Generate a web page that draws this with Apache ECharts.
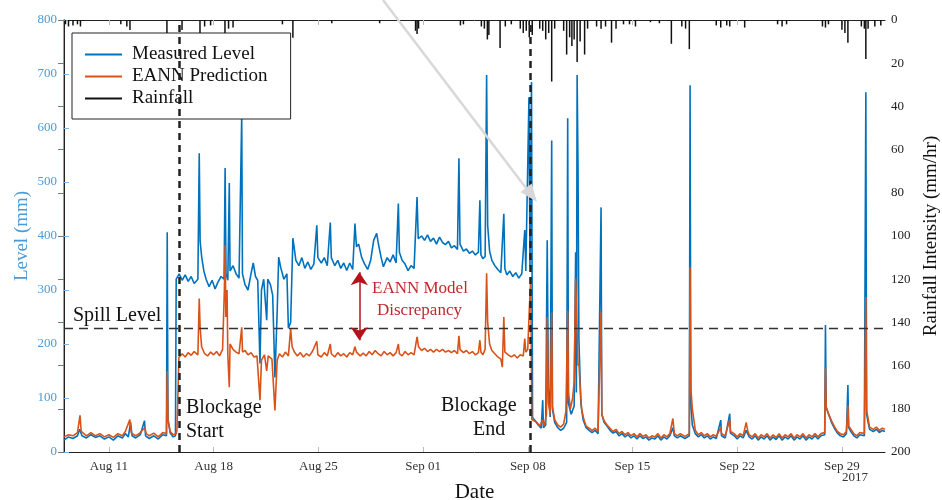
<!DOCTYPE html>
<html>
<head>
<meta charset="utf-8">
<script src="https://cdn.jsdelivr.net/npm/echarts@6/dist/echarts.min.js"></script>
<style>
  html, body { margin: 0; padding: 0; background: #fff; }
  #chart { width: 942px; height: 500px; }
</style>
</head>
<body>
<div id="chart"></div>
<script>
// days are counted from 8 Aug 2017 00:00
const startDate = new Date(2017, 7, 8).getTime();
const dayMs = 86400000;
const xMaxDay = 54.88;
const xTickDays = [3, 10, 17, 24, 31, 38, 45, 52];
const months = ["Jan", "Feb", "Mar", "Apr", "May", "Jun", "Jul", "Aug", "Sep", "Oct", "Nov", "Dec"];

const spillLevel = 230;
const blockageStart = 7.69;
const blockageEnd = 31.15;

// measured level (mm): [day, value]
const measuredLevel = [
  [0,22],[0.3,28],[0.6,25],[0.9,30],[1.05,42],[1.2,30],[1.5,26],[1.8,32],[2.1,27],[2.4,30],[2.7,24],[3.0,28],
  [3.3,22],[3.6,30],[3.9,26],[4.1,34],[4.3,28],[4.45,55],[4.55,30],[4.8,26],[5.1,32],[5.38,58],[5.45,30],[5.7,25],
  [6.0,30],[6.3,24],[6.6,32],[6.85,30],[6.9,407],[6.95,60],[7.1,35],[7.3,28],[7.45,30],[7.5,320],[7.7,330],[7.9,318],
  [8.1,328],[8.3,316],[8.5,325],[8.7,312],[8.95,320],[9.04,553],[9.1,390],[9.2,362],[9.35,335],[9.5,320],[9.7,306],
  [9.9,318],[10.1,302],[10.3,315],[10.5,325],[10.7,320],[10.77,526],[10.83,330],[10.95,318],[11.05,498],[11.1,335],
  [11.3,345],[11.5,330],[11.7,322],[11.88,623],[11.93,330],[12.1,310],[12.3,300],[12.5,330],[12.65,350],[12.8,325],
  [12.95,318],[13.1,164],[13.2,300],[13.35,320],[13.55,244],[13.62,320],[13.8,310],[13.95,290],[14.1,138],[14.25,260],
  [14.35,361],[14.5,340],[14.7,320],[14.9,330],[15.0,229],[15.15,240],[15.3,396],[15.5,355],[15.7,345],[15.9,360],
  [16.1,340],[16.3,352],[16.5,338],[16.7,348],[16.9,420],[16.97,360],[17.2,350],[17.4,360],[17.6,345],[17.8,425],
  [17.87,360],[18.1,345],[18.3,355],[18.5,340],[18.7,350],[18.9,336],[19.1,350],[19.3,338],[19.45,423],[19.55,380],
  [19.7,385],[19.9,360],[20.1,348],[20.3,338],[20.5,355],[20.7,392],[20.9,405],[21.0,388],[21.2,360],[21.35,343],
  [21.6,360],[21.8,352],[22.0,365],[22.2,350],[22.35,460],[22.42,370],[22.6,355],[22.8,348],[23.0,336],[23.2,345],
  [23.4,340],[23.6,472],[23.68,395],[23.9,400],[24.1,392],[24.3,402],[24.5,390],[24.7,396],[24.9,385],[25.1,398],
  [25.3,388],[25.5,384],[25.7,390],[25.9,378],[26.1,382],[26.3,375],[26.4,544],[26.47,385],[26.7,372],[26.9,376],
  [27.1,368],[27.3,372],[27.5,365],[27.7,370],[27.8,466],[27.87,365],[28.0,358],[28.15,362],[28.25,698],[28.32,420],
  [28.45,372],[28.6,355],[28.8,345],[29.0,338],[29.2,332],[29.4,441],[29.47,340],[29.6,328],[29.8,335],[30.0,325],
  [30.2,332],[30.4,322],[30.6,330],[30.8,411],[30.87,335],[31.0,337],[31.08,657],[31.15,345],[31.25,685],[31.32,64],
  [31.5,58],[31.7,50],[31.9,44],[32.0,96],[32.05,45],[32.2,50],[32.3,392],[32.38,120],[32.5,65],[32.6,577],[32.65,80],
  [32.8,55],[33.0,45],[33.2,40],[33.4,44],[33.6,55],[33.67,618],[33.72,90],[33.9,70],[34.1,85],[34.2,370],[34.25,110],
  [34.3,698],[34.36,527],[34.42,207],[34.55,90],[34.7,60],[34.9,45],[35.1,40],[35.3,36],[35.5,40],[35.7,34],[35.9,453],
  [35.95,70],[36.1,55],[36.3,48],[36.5,40],[36.7,35],[36.9,38],[37.1,30],[37.3,34],[37.5,28],[37.7,32],[37.9,26],
  [38.1,30],[38.3,24],[38.5,30],[38.7,25],[38.9,28],[39.1,22],[39.3,26],[39.5,24],[39.7,30],[39.9,22],[40.1,28],
  [40.3,24],[40.5,30],[40.7,45],[40.8,30],[41.0,26],[41.2,30],[41.5,25],[41.8,30],[41.85,679],[41.9,90],[42.0,50],
  [42.2,34],[42.4,28],[42.6,32],[42.8,26],[43.0,30],[43.2,24],[43.4,28],[43.6,25],[43.9,59],[43.95,30],[44.2,26],
  [44.5,71],[44.55,35],[44.8,30],[45.0,24],[45.2,30],[45.4,26],[45.6,40],[45.8,28],[46.0,24],[46.2,30],[46.4,22],
  [46.6,28],[46.8,24],[47.0,30],[47.2,22],[47.4,28],[47.6,23],[47.8,30],[48.0,22],[48.2,28],[48.4,24],[48.6,30],
  [48.8,22],[49.0,28],[49.2,24],[49.4,30],[49.6,22],[49.8,28],[50.0,24],[50.2,30],[50.4,24],[50.6,30],[50.85,32],
  [50.9,235],[50.95,83],[51.1,71],[51.3,55],[51.5,44],[51.7,35],[51.9,30],[52.1,28],[52.3,34],[52.4,124],[52.45,45],
  [52.6,38],[52.8,30],[53.0,26],[53.2,32],[53.5,30],[53.6,666],[53.65,70],[53.75,55],[53.85,42],[54.1,38],[54.3,42],
  [54.5,36],[54.7,40],[54.88,38]
];

// EANN prediction (mm): [day, value]
const predictedLevel = [
  [0,28],[0.3,32],[0.6,30],[0.9,36],[1.07,68],[1.15,38],[1.5,30],[1.8,36],[2.1,30],[2.4,34],[2.7,28],[3.0,32],
  [3.3,27],[3.6,34],[3.9,30],[4.1,38],[4.4,60],[4.5,35],[4.8,30],[5.1,36],[5.4,45],[5.5,34],[5.7,30],[6.0,35],
  [6.3,28],[6.6,36],[6.85,34],[6.9,150],[6.95,60],[7.1,38],[7.3,32],[7.5,34],[7.55,40],[7.68,175],[7.9,182],
  [8.1,176],[8.3,184],[8.5,179],[8.7,186],[8.95,180],[9.04,284],[9.1,230],[9.2,195],[9.4,182],[9.6,178],[9.8,185],
  [10.0,180],[10.2,186],[10.4,178],[10.6,190],[10.72,300],[10.77,383],[10.82,250],[10.9,300],[10.95,180],[11.05,120],
  [11.1,200],[11.3,190],[11.5,185],[11.7,182],[11.88,231],[11.93,185],[12.1,188],[12.3,180],[12.5,184],[12.7,176],
  [12.9,178],[13.1,96],[13.2,170],[13.4,180],[13.55,150],[13.65,178],[13.9,172],[14.1,77],[14.25,170],[14.4,182],
  [14.6,176],[14.8,185],[15.0,178],[15.15,228],[15.25,195],[15.4,185],[15.6,178],[15.8,184],[16.0,176],[16.2,182],
  [16.4,178],[16.6,186],[16.9,205],[16.97,180],[17.2,176],[17.4,184],[17.6,178],[17.8,200],[17.87,182],[18.1,176],
  [18.3,184],[18.5,178],[18.7,182],[18.9,176],[19.1,184],[19.3,180],[19.45,195],[19.55,185],[19.8,178],[20.0,183],
  [20.2,178],[20.4,186],[20.6,180],[20.8,188],[21.0,182],[21.2,178],[21.4,186],[21.6,180],[21.8,184],[22.0,178],
  [22.2,184],[22.35,200],[22.42,182],[22.6,178],[22.8,186],[23.0,180],[23.2,184],[23.4,180],[23.6,213],[23.7,195],
  [23.9,188],[24.1,192],[24.3,186],[24.5,190],[24.7,185],[24.9,190],[25.1,186],[25.3,190],[25.5,185],[25.7,188],
  [25.9,184],[26.1,188],[26.3,182],[26.4,215],[26.47,190],[26.7,184],[26.9,188],[27.1,182],[27.3,186],[27.5,180],
  [27.7,184],[27.8,207],[27.87,185],[28.0,180],[28.15,190],[28.25,331],[28.32,240],[28.45,200],[28.6,188],[28.8,182],
  [29.0,176],[29.2,172],[29.3,157],[29.4,250],[29.47,185],[29.7,180],[29.9,176],[30.1,180],[30.3,174],[30.5,180],
  [30.7,178],[30.8,210],[30.87,185],[31.0,190],[31.1,262],[31.2,321],[31.27,60],[31.4,62],[31.6,55],[31.8,48],
  [32.0,60],[32.1,48],[32.25,70],[32.3,250],[32.38,90],[32.5,70],[32.6,259],[32.65,85],[32.8,60],[33.0,50],[33.2,46],
  [33.4,52],[33.55,75],[33.67,262],[33.72,110],[33.85,80],[34.0,100],[34.1,130],[34.2,321],[34.3,321],[34.36,160],
  [34.42,164],[34.5,120],[34.6,80],[34.75,60],[34.9,48],[35.1,44],[35.3,40],[35.5,44],[35.7,38],[35.9,259],[35.95,70],
  [36.1,58],[36.3,50],[36.5,44],[36.7,38],[36.9,42],[37.1,34],[37.3,38],[37.5,32],[37.7,36],[37.9,30],[38.1,34],
  [38.3,28],[38.5,34],[38.7,29],[38.9,32],[39.1,26],[39.3,30],[39.5,28],[39.7,34],[39.9,26],[40.1,32],[40.3,28],
  [40.5,34],[40.7,62],[40.8,34],[41.0,30],[41.2,34],[41.5,29],[41.8,34],[41.85,342],[41.9,120],[42.0,80],[42.1,60],
  [42.2,40],[42.4,32],[42.6,36],[42.8,30],[43.0,34],[43.2,28],[43.4,32],[43.6,29],[43.9,45],[43.95,34],[44.2,30],
  [44.5,60],[44.55,38],[44.8,34],[45.0,28],[45.2,34],[45.4,30],[45.6,55],[45.7,40],[45.8,32],[46.0,28],[46.2,34],
  [46.4,26],[46.6,32],[46.8,28],[47.0,34],[47.2,26],[47.4,32],[47.6,27],[47.8,34],[48.0,26],[48.2,32],[48.4,28],
  [48.6,34],[48.8,26],[49.0,32],[49.2,28],[49.4,34],[49.6,26],[49.8,32],[50.0,28],[50.2,34],[50.4,28],[50.6,34],
  [50.85,36],[50.9,157],[50.95,83],[51.1,71],[51.3,58],[51.5,47],[51.7,38],[51.9,34],[52.1,32],[52.3,38],[52.4,86],
  [52.45,48],[52.6,42],[52.8,34],[53.0,30],[53.2,36],[53.5,34],[53.6,287],[53.65,77],[53.75,62],[53.85,46],[54.1,42],
  [54.3,46],[54.5,40],[54.7,44],[54.88,42]
];

// rainfall intensity (mm/hr): [day, value]
const rainfall = [
  [0.1,2],[0.3,3],[0.6,2.5],[0.9,2],[1.1,3],[3.8,2],[4.2,3],[4.41,4.6],[6.88,6],[7.89,4.6],[9.09,6],[9.4,3],[9.8,2.5],
  [10.76,6],[11.0,4],[11.3,3.5],[14.6,2],[15.3,8.2],[17.9,1.5],[21.1,1.5],[23.5,5],[23.6,6.5],[23.7,4],[26.5,2.5],
  [26.7,2],[27.9,3],[28.1,4],[28.3,9],[28.4,7],[29.15,13],[29.5,3],[29.9,2],[30.5,4],[30.7,6],[30.9,5],[31.1,8],
  [31.3,7],[31.8,4],[32.0,5],[32.2,9],[32.4,6],[32.6,28.5],[32.8,4],[33.4,5],[33.6,16],[33.8,8],[33.95,12],[34.1,9],
  [34.3,19.5],[34.5,10],[34.8,16],[35.0,4],[35.6,3],[35.9,4],[36.2,3],[36.6,10.5],[36.9,4],[37.4,2],[37.8,2],[38.2,3],
  [39.2,1],[39.8,1.5],[40.6,11],[41.3,3],[41.55,4],[41.8,13.5],[43.6,2.5],[43.9,3.5],[44.3,2.5],[44.5,3],[45.5,3.5],
  [47.7,2],[48.0,3],[48.3,2],[50.7,3],[50.9,3.5],[51.1,2],[52.0,4.5],[52.2,6],[52.4,10.5],[53.3,3],[53.5,4],[53.6,18],
  [53.75,4],[54.2,3],[54.6,2.5]
];

const serif = "Liberation Serif";

function dayLabel(v) {
  const d = new Date(startDate + v * dayMs);
  return months[d.getMonth()] + " " + String(d.getDate()).padStart(2, "0");
}

const chart = echarts.init(document.getElementById("chart"), null, { renderer: "canvas" });

chart.setOption({
  animation: false,
  textStyle: { fontFamily: serif },
  grid: { left: 64, right: 57, top: 20, bottom: 48, containLabel: false, outerBoundsMode: "none" },
  legend: {
    orient: "vertical",
    left: 72,
    top: 33,
    backgroundColor: "#fff",
    borderColor: "#222",
    borderWidth: 1,
    padding: [12, 23, 11, 13],
    itemGap: 3,
    itemWidth: 37,
    itemHeight: 2,
    icon: "rect",
    textStyle: { fontFamily: serif, fontSize: 19, color: "#111", padding: [0, 0, 0, 5] },
    data: ["Measured Level", "EANN Prediction", "Rainfall"]
  },
  xAxis: [
    {
      type: "value",
      min: 0,
      max: xMaxDay,
      name: "Date",
      nameLocation: "middle",
      nameGap: 30,
      nameTextStyle: { fontFamily: serif, fontSize: 21, color: "#111" },
      axisLine: { lineStyle: { color: "#222", width: 1 } },
      axisTick: { inside: true, length: 5, customValues: xTickDays, lineStyle: { color: "#bbb" } },
      axisLabel: { customValues: xTickDays, formatter: dayLabel, fontSize: 13, color: "#333", margin: 8 },
      splitLine: { show: false }
    },
    {
      type: "value",
      position: "top",
      min: 0,
      max: xMaxDay,
      axisLine: { onZero: false, lineStyle: { color: "#222", width: 1 } },
      axisTick: { inside: true, length: 5, customValues: xTickDays, lineStyle: { color: "#bbb" } },
      axisLabel: { show: false },
      splitLine: { show: false }
    }
  ],
  yAxis: [
    {
      type: "value",
      min: 0,
      max: 800,
      interval: 100,
      name: "Level (mm)",
      nameLocation: "middle",
      nameRotate: 90,
      nameGap: 32,
      nameMoveOverlap: false,
      nameTextStyle: { fontFamily: serif, fontSize: 19, color: "#4a9ad8" },
      axisLine: { show: true, lineStyle: { color: "#3a8fd6", width: 1.5 } },
      axisTick: { show: true, inside: true, length: 5, lineStyle: { color: "#7fb6e6" } },
      axisLabel: { fontSize: 13, color: "#4a9ad8", margin: 7 },
      splitLine: { show: false }
    },
    {
      type: "value",
      position: "right",
      inverse: true,
      min: 0,
      max: 200,
      interval: 20,
      name: "Rainfall Intensity (mm/hr)",
      nameLocation: "middle",
      nameRotate: 90,
      nameGap: 36,
      nameTextStyle: { fontFamily: serif, fontSize: 19, color: "#111" },
      axisLine: { show: true, lineStyle: { color: "#222", width: 1 } },
      axisTick: { show: true, inside: true, length: 6, lineStyle: { color: "#777" } },
      axisLabel: { fontSize: 13, color: "#222", margin: 6 },
      splitLine: { show: false }
    }
  ],
  series: [
    {
      name: "Measured Level",
      type: "line",
      yAxisIndex: 0,
      showSymbol: false,
      symbol: "none",
      color: "#0072BD",
      lineStyle: { width: 1.6, color: "#0072BD" },
      data: measuredLevel,
      z: 2
    },
    {
      name: "EANN Prediction",
      type: "line",
      yAxisIndex: 0,
      showSymbol: false,
      symbol: "none",
      color: "#D95319",
      lineStyle: { width: 1.6, color: "#D95319" },
      data: predictedLevel,
      z: 3,
      markLine: {
        silent: true,
        symbol: "none",
        label: { show: false },
        data: [
          { yAxis: spillLevel, lineStyle: { color: "#333", type: [9, 6], width: 1.3 } },
          { xAxis: blockageStart, lineStyle: { color: "#222", type: [7, 5], width: 2.5 } },
          { xAxis: blockageEnd, lineStyle: { color: "#222", type: [7, 5], width: 2.5 } },
          [
            { coord: [19.74, 333], symbol: "arrow", symbolSize: 13, lineStyle: { color: "#b5121b", type: "solid", width: 1.5 } },
            { coord: [19.74, 207], symbol: "arrow", symbolSize: 13 }
          ]
        ]
      }
    },
    {
      name: "Rainfall",
      type: "bar",
      yAxisIndex: 1,
      color: "#111",
      barWidth: 1.5,
      itemStyle: { color: "#111" },
      data: rainfall,
      z: 4
    }
  ],
  graphic: [
    { type: "text", left: 73, top: 306, style: { text: "Spill Level", font: "20px " + serif, fill: "#111" } },
    { type: "text", left: 186, top: 396, style: { text: "Blockage\nStart", font: "20px " + serif, fill: "#111", lineHeight: 24 } },
    { type: "text", left: 441, top: 396, style: { text: "Blockage", font: "20px " + serif, fill: "#111" } },
    { type: "text", left: 473, top: 420, style: { text: "End", font: "20px " + serif, fill: "#111" } },
    { type: "text", left: 372, top: 280, style: { text: "EANN Model", font: "17px " + serif, fill: "#c0282d" } },
    { type: "text", left: 377, top: 302, style: { text: "Discrepancy", font: "17px " + serif, fill: "#c0282d" } },
    { type: "text", left: 842, top: 471, style: { text: "2017", font: "13px " + serif, fill: "#333" } },
    {
      type: "line",
      shape: { x1: 383, y1: 0, x2: 526, y2: 188 },
      style: { stroke: "#d8d8d8", lineWidth: 2.5 },
      z: 10
    },
    {
      type: "polygon",
      shape: { points: [[537, 202], [520.5, 191.9], [531.7, 183.5]] },
      style: { fill: "#d8d8d8" },
      z: 10
    }
  ]
});
</script>
</body>
</html>
